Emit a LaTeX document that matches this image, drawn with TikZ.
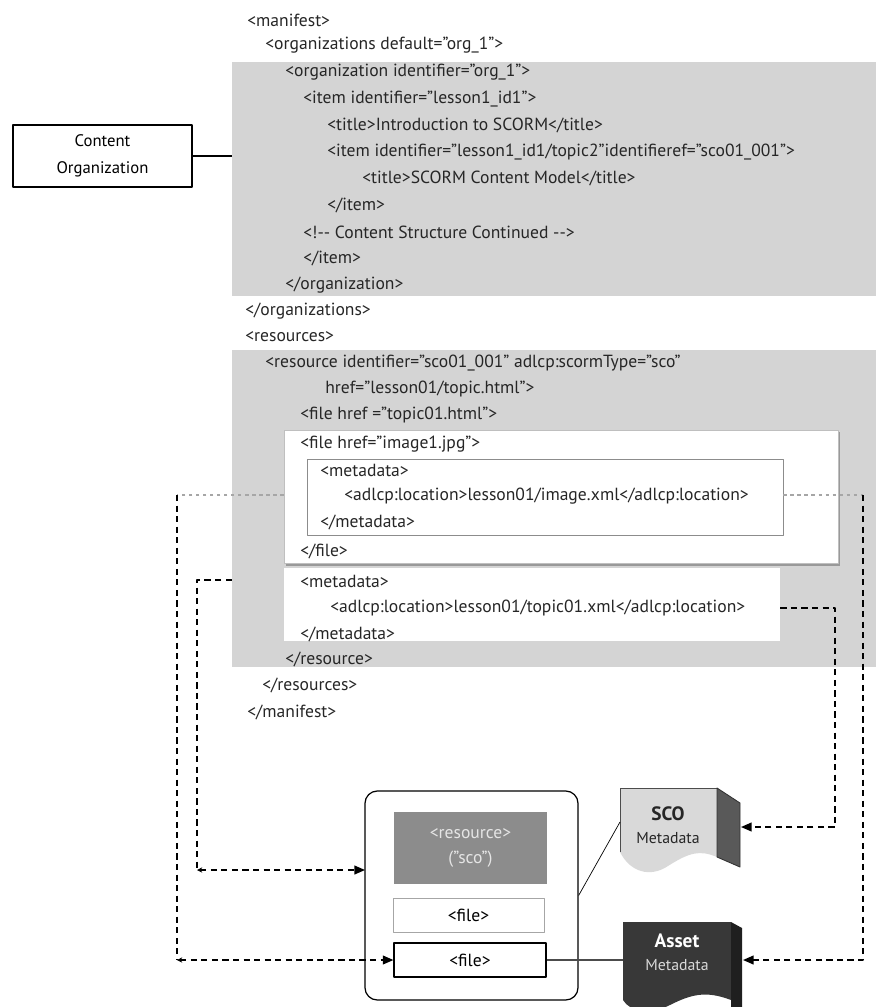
\documentclass[tikz,border=0pt]{standalone}
\usepackage{fontspec}
\setmainfont{PT Sans}
\usetikzlibrary{arrows.meta,fit,positioning}

\begin{document}
\begin{tikzpicture}[
        x = 0.02cm, y = -0.02cm,
        line join=round,
        font = \fontsize{10}{12}\selectfont,
        code/.style = {anchor=west, inner sep=0pt, text=black!85},
        greybox/.style = {fill=black!17, inner sep=0pt},
        whitebox/.style = {fill=white, inner sep=0pt},
        link/.style = {line width=0.8pt, dash pattern=on 3.5pt off 2.5pt},
        faint/.style = {black!35, line width=0.6pt, dash pattern=on 2pt off 2pt},
        bigtip/.style = {-{Triangle[length=6pt, width=5pt]}},
        smalltip/.style = {{Stealth[length=3pt, width=3pt]}-{Triangle[length=6pt, width=5pt]}},
    ]

    \useasboundingbox (0, 0) rectangle (876, 1007);

    \node[greybox, fit={(232, 62) (876, 296)}] (orgbox) {};
    \node[greybox, fit={(232, 350) (876, 667)}] (resbox) {};
    \fill[black!40] (286, 432) rectangle (840, 566);
    \node[whitebox, draw=black!25, fit={(284, 430) (838, 563)}] (imgfile) {};
    \node[whitebox, draw=black!45, line width=0.4pt, fit={(307, 459) (783, 535)}] (imgmeta) {};
    \node[whitebox, fit={(284, 568) (780, 641)}] (topicmeta) {};

    \node[code] (manifest) at (247, 20) {<manifest>};
    \node[code] (orgs) at (265, 45) {<organizations default="org\_1">};
    \node[code] (org) at (285, 72) {<organization identifier="org\_1">};
    \node[code] (item) at (303, 99) {<item identifier="lesson1\_id1">};
    \node[code] (title) at (327, 125) {<title>Introduction to SCORM</title>};
    \node[code] (subitem) at (327, 152) {<item identifier="lesson1\_id1/topic2"identifieref="sco01\_001">};
    \node[code] (subtitle) at (362, 178) {<title>SCORM Content Model</title>};
    \node[code] (subitemend) at (327, 205) {</item>};
    \node[code] (comment) at (303, 232) {<!-{}- Content Structure Continued -{}->};
    \node[code] (itemend) at (303, 258) {</item>};
    \node[code] (orgend) at (285, 285) {</organization>};
    \node[code] (orgsend) at (245, 311) {</organizations>};
    \node[code] (ress) at (245, 337) {<resources>};
    \node[code] (res) at (265, 363) {<resource identifier="sco01\_001" adlcp:scormType="sco"};
    \node[code] (href) at (325, 389) {href="lesson01/topic.html">};
    \node[code] (file) at (300, 415) {<file href ="topic01.html">};
    \node[code] (img) at (300, 444) {<file href="image1.jpg">};
    \node[code] (imgmd) at (320, 470) {<metadata>};
    \node[code] (imgloc) at (344, 496) {<adlcp:location>lesson01/image.xml</adlcp:location>};
    \node[code] (imgmdend) at (320, 522) {</metadata>};
    \node[code] (imgend) at (300, 551) {</file>};
    \node[code] (md) at (300, 581) {<metadata>};
    \node[code] (loc) at (330, 608) {<adlcp:location>lesson01/topic01.xml</adlcp:location>};
    \node[code] (mdend) at (300, 634) {</metadata>};
    \node[code] (resend) at (285, 659) {</resource>};
    \node[code] (ressend) at (262, 685) {</resources>};
    \node[code] (manifestend) at (247, 712) {</manifest>};

    \node[draw, line width=0.6pt, minimum width=3.58cm, minimum height=1.24cm, align=center,
        font=\fontsize{9.5}{15}\selectfont] (contorg) at (102.5, 156) {Content\\Organization};
    \draw[line width=0.8pt] (contorg) -- (contorg -| orgbox.west);

    \node[draw, line width=0.7pt, rounded corners=7pt, inner sep=0pt, fit={(365, 791) (578, 1000)}] (sco) {};
    \node[fill=black!45, text=black!10, inner sep=0pt, align=center, minimum width=3.06cm, minimum height=1.44cm,
        font=\fontsize{10}{14}\selectfont] (resnode) at (470.5, 848) {<resource>\\("sco")};
    \node[draw=black!35, inner sep=0pt, minimum width=3.02cm, minimum height=0.68cm] (file1) at (468.5, 915) {<file>};
    \node[draw, line width=0.7pt, inner sep=0pt, minimum width=3.04cm, minimum height=0.68cm] (file2) at (470, 960) {<file>};

    \fill[black!15] (620, 788) -- (717, 788) -- (717, 857) .. controls (700, 850) and (690, 852) .. (668, 866)
        .. controls (650, 878) and (630, 872) .. (620, 852) -- cycle;
    \draw[black!70, line width=0.5pt] (620, 852) -- (620, 788) -- (717, 788) -- (717, 857);
    \filldraw[fill=black!65, draw=black!80, line width=0.5pt] (717, 788) -- (740, 803) -- (740, 867) -- (717, 857) -- cycle;
    \node[align=center, inner sep=0pt, text=black!85, font=\fontsize{9}{13}\selectfont] (scodoc) at (668, 825)
        {{\fontsize{11}{13}\selectfont\bfseries SCO}\\Metadata};

    \fill[black!78] (623, 922) -- (731, 922) -- (731, 1000) .. controls (705, 990) and (690, 995) .. (670, 1005)
        .. controls (650, 1015) and (630, 1012) .. (623, 1000) -- cycle;
    \fill[black!88] (731, 922) -- (742, 928) -- (742, 1007) -- (731, 1007) -- cycle;
    \node[align=center, inner sep=0pt, text=white!85!black, font=\fontsize{9}{13}\selectfont] (assetdoc) at (677, 952)
        {{\fontsize{11}{13}\selectfont\bfseries\color{white} Asset}\\Metadata};

    \coordinate (outerleft) at (177, 495);
    \coordinate (innerleft) at (197, 580);
    \coordinate (outerright) at (863, 495);
    \coordinate (innerright) at (835, 608);
    \coordinate (scoin) at (365, 870);
    \coordinate (scoleft) at (620, 822);
    \coordinate (scoflap) at (741, 827);
    \coordinate (assetleft) at (623, 960);
    \coordinate (assetflap) at (743, 960);

    \draw[line width=0.4pt] (sco.east) -- (scoleft);
    \draw[line width=0.6pt, black!70] (file2) -- (assetleft);

    \draw[faint] (imgfile.west |- outerleft) -- (outerleft);
    \draw[faint] (imgmeta.east |- outerright) -- (outerright);
    \draw[link] (outerleft) -- (outerleft |- file2.west);
    \draw[link, smalltip] (outerleft |- file2.west) -- (file2.west);
    \draw[link] (resbox.west |- innerleft) -- (innerleft) -- (innerleft |- scoin);
    \draw[link, smalltip] (innerleft |- scoin) -- (scoin);
    \draw[link, bigtip] (outerright) |- (assetflap);
    \draw[link, bigtip] (topicmeta.east |- innerright) -- (innerright) |- (scoflap);
\end{tikzpicture}
\end{document}
